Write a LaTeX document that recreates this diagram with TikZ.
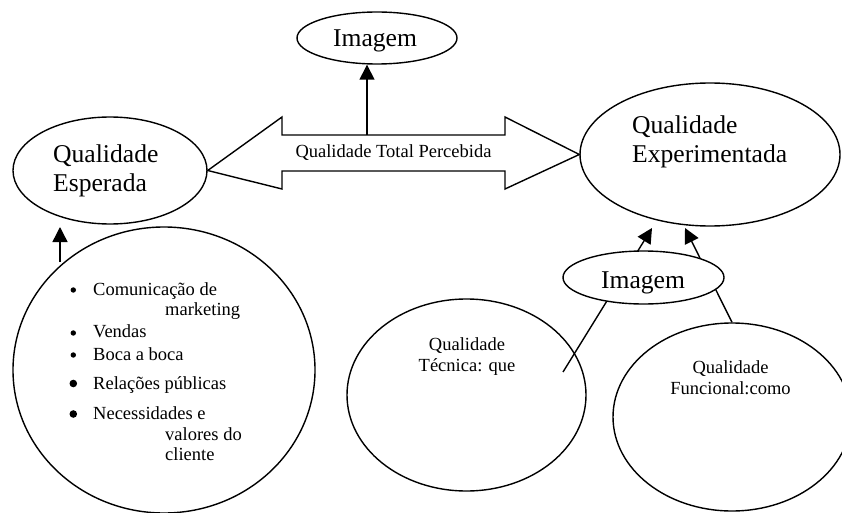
\documentclass[tikz,border=0pt]{standalone}
\usepackage{fontspec}
\setmainfont{Liberation Serif}
\usetikzlibrary{arrows.meta,shapes.geometric}
\begin{document}
\begin{tikzpicture}[x=1pt,y=-1pt,
  outline/.style={draw=black,line width=1.4pt},
  oval/.style={outline,ellipse,fill=white,inner sep=0pt},
  bigtext/.style={font=\fontsize{25.6}{28.8}\selectfont,inner sep=0pt},
  smalltext/.style={font=\fontsize{18.5}{21.5}\selectfont,inner sep=0pt},
  link/.style={line width=1.4pt,-{Triangle[length=15pt,width=15pt]}},
  dot/.style={circle,fill=black,inner sep=0pt}
]
\useasboundingbox (0,0) rectangle (842,513);
\clip (0,0) rectangle (842,513);

% ovals
\node[oval,minimum width=194pt,minimum height=107pt] (esp) at (110,170.5) {};
\node[oval,minimum width=260pt,minimum height=143pt] (exp) at (710,154.5) {};
\node[oval,minimum width=302pt,minimum height=286pt] (lista) at (164,370) {};
\node[oval,minimum width=239pt,minimum height=192pt] (tec) at (466.5,395) {};
\node[oval,minimum width=238pt,minimum height=188pt] (fun) at (732,417) {};
\node[oval,minimum width=160pt,minimum height=52pt] (imgtop) at (377,38) {};

% two-headed arrow between the expected and the experienced quality
\draw[outline,fill=white] (esp.east) -- (282,117) -- (282,135) -- (505,135) -- (505,117)
  -- (exp.west) -- (505,189) -- (505,171) -- (282,171) -- (282,189) -- cycle;
\coordinate (shafttop) at (367,135);

% connectors
\coordinate (listtop) at (60,262);
\coordinate (esptip) at (60,227);
\coordinate (tecfoot) at (563,372);
\coordinate (exptipL) at (652,228);
\coordinate (exptipR) at (685,228);
\draw[link] (shafttop) -- (shafttop |- imgtop.south);
\draw[link] (listtop) -- (esptip);
\draw[link] (tecfoot) -- (exptipL);
\draw[link] (fun.north) -- (exptipR);

% the image oval sits on top of the two lines
\node[oval,minimum width=161pt,minimum height=53pt] (img) at (643.5,277.5) {};

% texts
\node[bigtext,anchor=base] (imgtoptxt) at (375,47) {Imagem};
\node[bigtext,anchor=base] (imgtxt) at (643,288) {Imagem};
\node[bigtext,align=left,anchor=west] (esptxt) at (53,171) {Qualidade\\Esperada};
\node[bigtext,align=left,anchor=west] (exptxt) at (632,141.5) {Qualidade\\Experimentada};
\node[smalltext,anchor=base] (totaltxt) at (393.5,157.3) {Qualidade Total Percebida};
\node[smalltext,align=center] (tectxt) at (467,356.5) {Qualidade\\Técnica: que};
\node[smalltext,align=center] (funtxt) at (730.5,377.7) {Qualidade\\Funcional:como};

% bullet list
\node[dot,minimum size=5.4pt] (b1) at (73.3,290) {};
\node[dot,minimum size=5.4pt] (b2) at (73.3,333) {};
\node[dot,minimum size=5.4pt] (b3) at (73.3,355) {};
\node[dot,minimum size=7.6pt] (b4) at (73.3,383.5) {};
\node[dot,minimum size=7.6pt] (b5) at (73.3,414) {};
\node[smalltext,anchor=base west] (l1) at (93,295.3) {Comunicação de};
\node[smalltext,anchor=base west] (l2) at (165,315) {marketing};
\node[smalltext,anchor=base west] (l3) at (93,337.3) {Vendas};
\node[smalltext,anchor=base west] (l4) at (93,360) {Boca a boca};
\node[smalltext,anchor=base west] (l5) at (93,389) {Relações públicas};
\node[smalltext,anchor=base west] (l6) at (93,419.3) {Necessidades e};
\node[smalltext,anchor=base west] (l7) at (165,440.7) {valores do};
\node[smalltext,anchor=base west] (l8) at (165,460.7) {cliente};
\end{tikzpicture}
\end{document}
